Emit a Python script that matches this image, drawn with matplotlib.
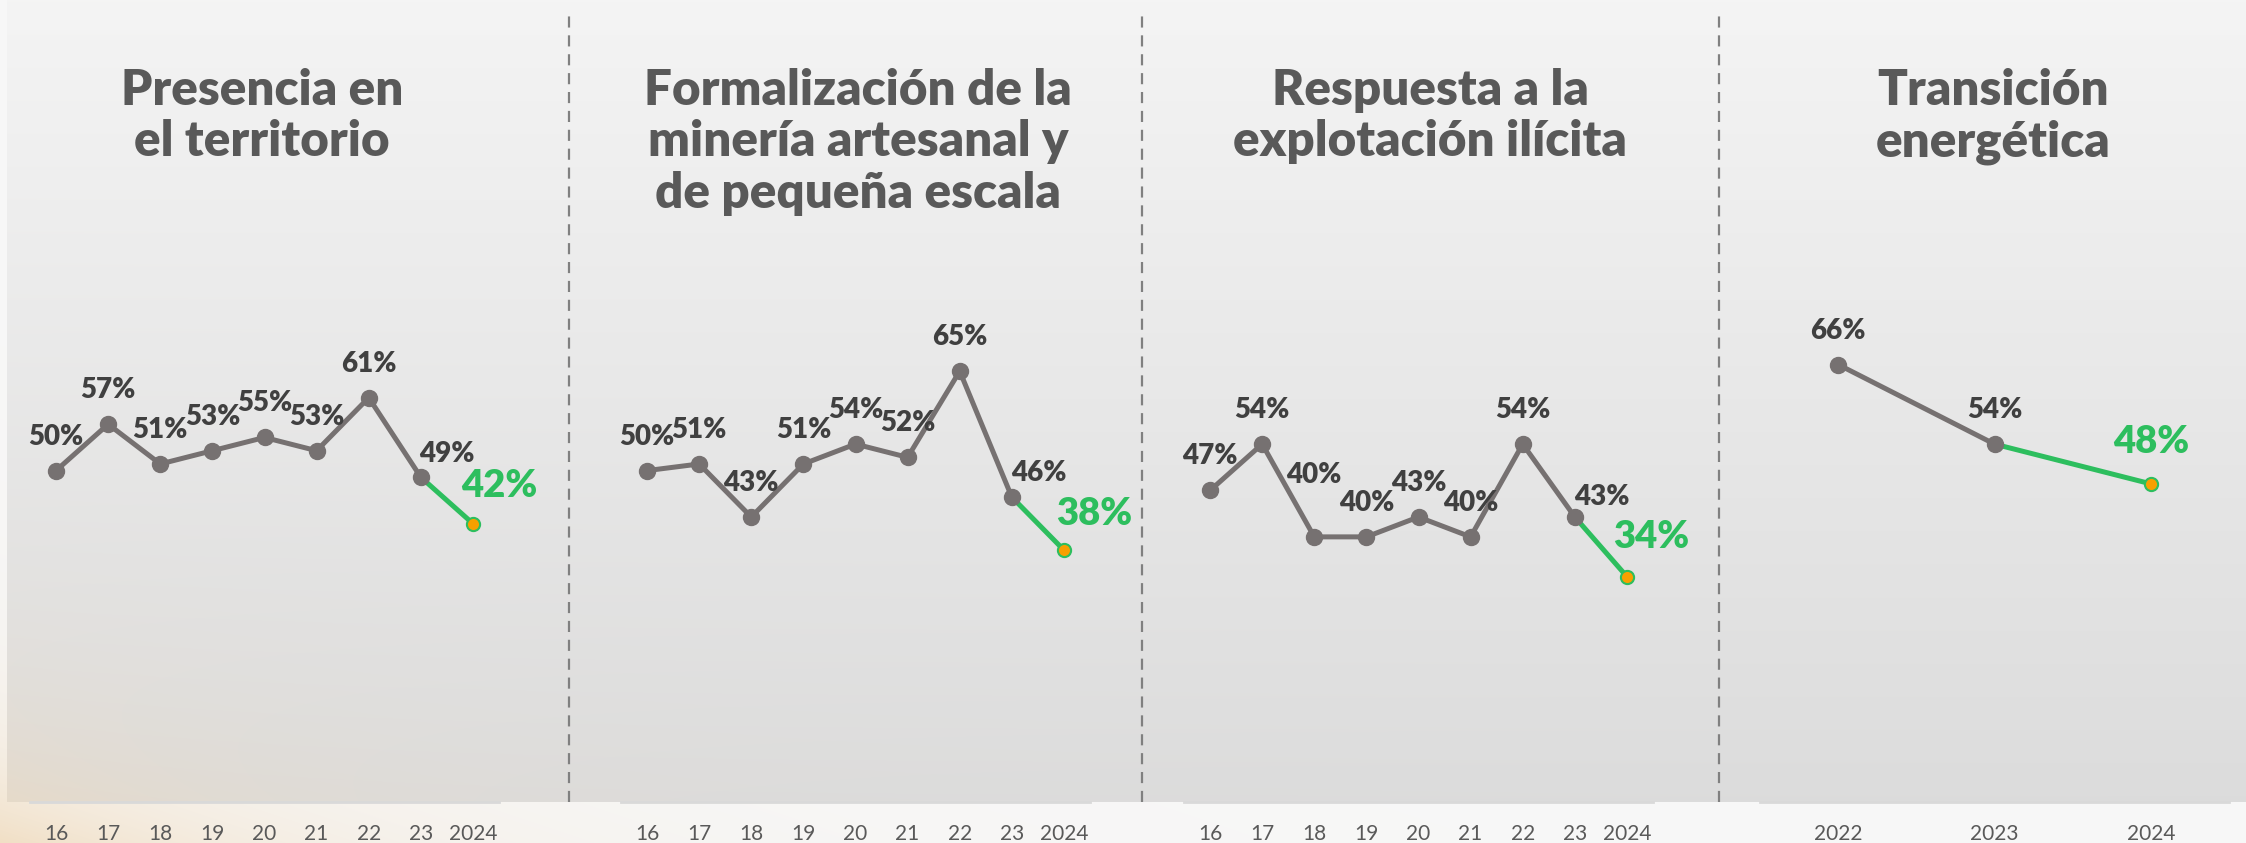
import numpy as np
import matplotlib
matplotlib.use("Agg")
import matplotlib.pyplot as plt
from matplotlib.lines import Line2D

W, H = 2246, 843

# data
years_long = ["16", "17", "18", "19", "20", "21", "22", "23", "2024"]
years_short = ["2022", "2023", "2024"]
presencia = [50, 57, 51, 53, 55, 53, 61, 49, 42]
formalizacion = [50, 51, 43, 51, 54, 52, 65, 46, 38]
respuesta = [47, 54, 40, 40, 43, 40, 54, 43, 34]
transicion = [66, 54, 48]

titles = ["Presencia en\nel territorio",
          "Formalización de la\nminería artesanal y\nde pequeña escala",
          "Respuesta a la\nexplotación ilícita",
          "Transición\nenergética"]

GRAY = "#767171"
GREEN = "#2dbe5e"
ORANGE = "#f7a000"
TXT = "#404040"
TITLE = "#595959"

fig = plt.figure(figsize=(W / 100, H / 100), dpi=100)

# background: gray gradient panel, light strips, warm glow bottom-left
yy, xx = np.mgrid[0:H, 0:W].astype(float)
base = np.full((H, W), 0.97)
panel = (yy < 802) & (xx >= 7)
base[panel] = (0.957 - 0.095 * (yy / 802))[panel]
img = np.dstack([base, base, base])
w = np.exp(-(xx / 300 + (H - yy) / 100))
w = np.clip(w, 0, 1)[..., None] * 0.8
tan = np.array([0.94, 0.85, 0.72])
img = img * (1 - w) + tan * w
bg = fig.add_axes([0, 0, 1, 1], zorder=-5)
bg.imshow(img, aspect="auto", extent=[0, 1, 0, 1], interpolation="bilinear")
bg.axis("off")

# separators
for sx in [569, 1142, 1719]:
    fig.add_artist(Line2D([sx / W, sx / W], [(H - 802) / H, 1 - 12 / H],
                          transform=fig.transFigure, color="#808080",
                          lw=1.6, ls=(0, (5, 3.5))))

panels = [
    (30, years_long, presencia, {7: (26, 23)}, (26, 38)),
    (621, years_long, formalizacion, {7: (27, 24)}, (30, 36)),
    (1184, years_long, respuesta, {7: (27, 20), 2: (0, 62)}, (24, 40)),
    (1760, years_short, transicion, {}, (0, 42)),
]
title_x = [262, 858, 1430, 1993]

bottom = (H - 802) / H
for (left, labels, vals, offs, green_off), tx, title in zip(panels, title_x, titles):
    ax = fig.add_axes([left / W, bottom, 469 / W, 802 / H])
    ax.set_facecolor("none")
    n = len(vals)
    x = np.arange(n)
    ax.plot(x[-2:], vals[-2:], color=GREEN, lw=3.6, zorder=2, solid_capstyle="round")
    ax.plot(x[:-1], vals[:-1], color=GRAY, lw=3.6, marker="o", markersize=11.5,
            zorder=3, solid_capstyle="round")
    ax.plot(x[-1], vals[-1], marker="o", markersize=9.5, markerfacecolor=ORANGE,
            markeredgecolor=GREEN, markeredgewidth=1.5, zorder=4)
    for i in range(n - 1):
        dx, dy = offs.get(i, (0, 34))
        ax.annotate(f"{vals[i]}%", (x[i], vals[i]), xytext=(dx, dy),
                    textcoords="offset pixels", ha="center", va="center",
                    fontsize=20, fontweight="heavy", color=TXT, family="Lato")
    ax.annotate(f"{vals[-1]}%", (x[-1], vals[-1]), xytext=green_off,
                textcoords="offset pixels", ha="center", va="center",
                fontsize=27.5, fontweight="heavy", color=GREEN, family="Lato")
    ax.set_xlim(-0.5, n - 0.5)
    ax.set_ylim(0, 121)
    ax.set_xticks(x)
    ax.set_xticklabels(labels, fontsize=15, color="#595959", family="Lato")
    ax.tick_params(axis="x", length=0, pad=16)
    ax.set_yticks([])
    for s in ["top", "left", "right"]:
        ax.spines[s].set_visible(False)
    ax.spines["bottom"].set_color("#d9d9d9")
    ax.spines["bottom"].set_linewidth(2)

    fig.text(tx / W, 1 - 68 / H, title, ha="center", va="top", fontsize=35.5,
             fontweight="heavy", color=TITLE, family="Lato", linespacing=1.17)

fig.savefig("out.png", dpi=100)
